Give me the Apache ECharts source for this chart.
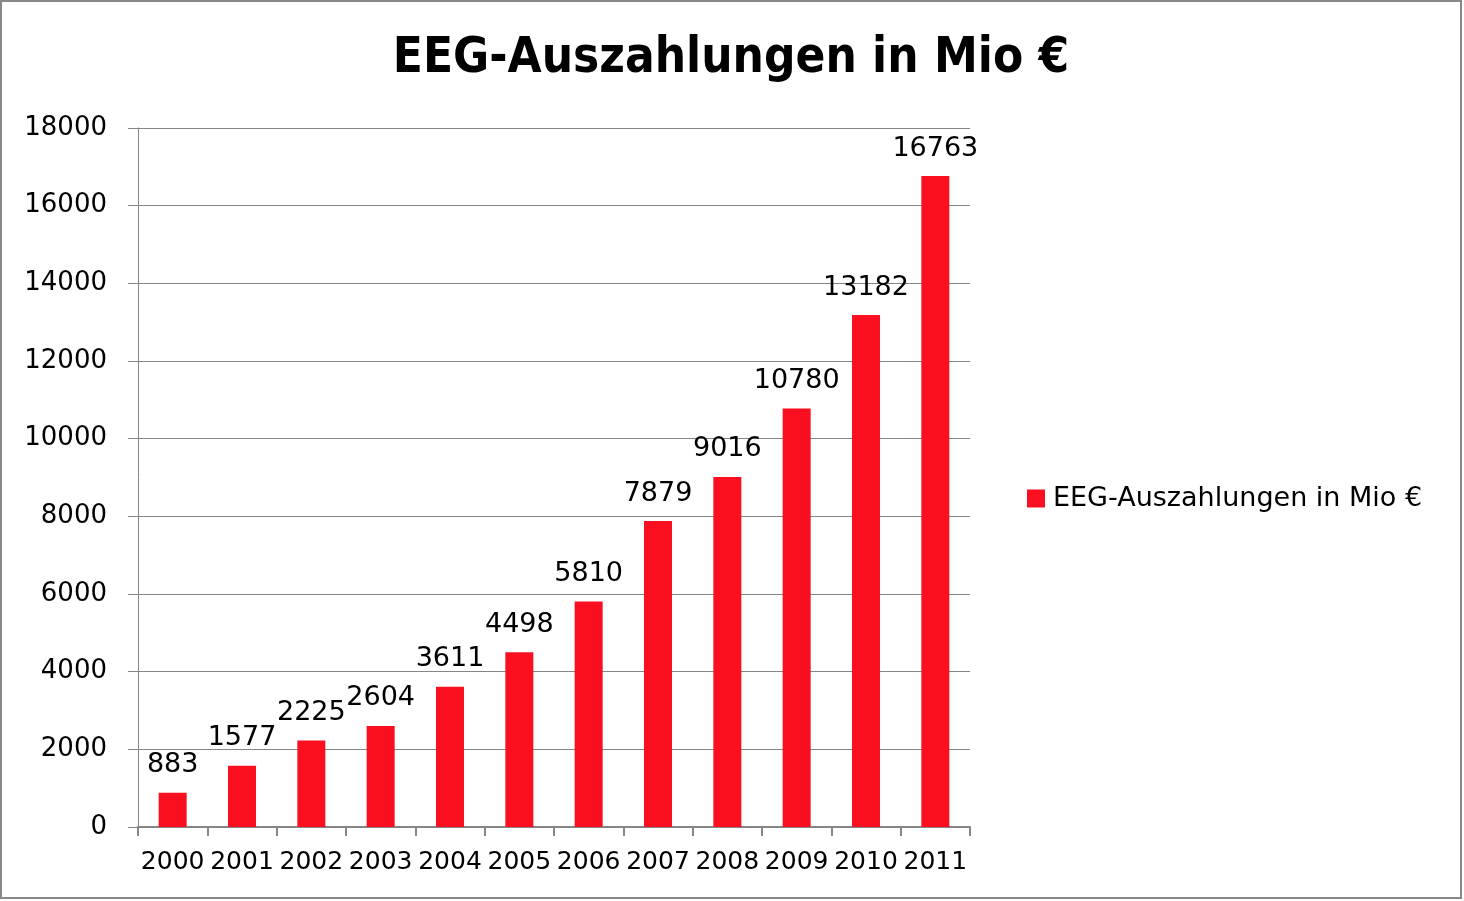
<!DOCTYPE html>
<html>
<head>
<meta charset="utf-8">
<script src="https://cdn.jsdelivr.net/npm/echarts@6/dist/echarts.min.js"></script>
<style>
html,body{margin:0;padding:0;background:#fff;}
#chart{width:1464px;height:901px;}
</style>
</head>
<body>
<div id="chart"></div>
<script>
const titleText = 'EEG-Auszahlungen in Mio €';
const seriesName = 'EEG-Auszahlungen in Mio €';
const years = ['2000','2001','2002','2003','2004','2005','2006','2007','2008','2009','2010','2011'];
const payouts = [883,1577,2225,2604,3611,4498,5810,7879,9016,10780,13182,16763];

const chart = echarts.init(document.getElementById('chart'));
chart.setOption({
  backgroundColor:'#fff',
  animation:false,
  title:{
    text:titleText,
    left:731,
    textAlign:'center',
    top:35,
    padding:0,
    textStyle:{fontFamily:'DejaVu Sans Condensed',fontWeight:'bold',fontSize:49,color:'#000'}
  },
  legend:{
    left:1027,
    top:485,
    padding:0,
    orient:'vertical',
    itemWidth:18,
    itemHeight:18,
    itemGap:9,
    icon:'rect',
    textStyle:{fontFamily:'DejaVu Sans',fontSize:27,color:'#000',padding:[0,0,0,3]},
    data:[seriesName]
  },
  grid:{left:138,right:494,top:128,bottom:74,containLabel:false},
  xAxis:{
    type:'category',
    data:years,
    boundaryGap:true,
    axisLine:{lineStyle:{color:'#868686',width:2}},
    axisTick:{show:true,length:9,lineStyle:{color:'#868686',width:2},alignWithLabel:false},
    axisLabel:{fontFamily:'DejaVu Sans',fontSize:25,color:'#000',margin:23,interval:0}
  },
  yAxis:{
    type:'value',
    min:0,max:18000,interval:2000,
    axisLine:{show:true,lineStyle:{color:'#868686',width:1}},
    axisTick:{show:true,length:10,lineStyle:{color:'#868686'}},
    splitLine:{lineStyle:{color:'#868686',width:1}},
    axisLabel:{fontFamily:'DejaVu Sans',fontSize:26,color:'#000',margin:31,formatter:function(v){return String(v);}}
  },
  graphic:[{
    type:'rect',
    shape:{x:1,y:1,width:1460,height:897},
    style:{fill:null,stroke:'#888',lineWidth:2},
    silent:true,z:100
  }],
  series:[{
    name:seriesName,
    type:'bar',
    data:payouts,
    barWidth:28,
    itemStyle:{color:'#FA0F20'},
    label:{show:true,position:'top',distance:14,fontFamily:'DejaVu Sans',fontSize:27,color:'#000'}
  }]
});
</script>
</body>
</html>
